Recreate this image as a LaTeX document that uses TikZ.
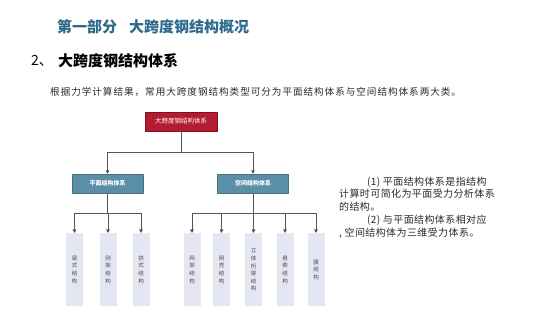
\documentclass[tikz,border=0pt]{standalone}
\usepackage{fontspec}
\newfontfamily\cjk{Noto Sans CJK SC}
\usetikzlibrary{arrows.meta}
\newcommand\tightls{\lineskiplimit=-10pt\relax}
\definecolor{titleblue}{HTML}{2E6A8C}
\definecolor{topred}{HTML}{B21B30}
\definecolor{midblue}{HTML}{5B8FA7}
\definecolor{leafbg}{HTML}{E4E6F2}
\definecolor{linegray}{HTML}{555555}
\definecolor{txtgray}{HTML}{2A2A2A}
\tikzset{
  topbox/.style={draw=topred!70!black, line width=0.3pt, fill=topred, text=white, minimum width=72pt, minimum height=19pt, inner sep=0pt, font=\cjk\fontsize{6.5}{7}\selectfont},
  midbox/.style={draw=midblue!80!black, line width=0.3pt, fill=midblue, text=white, minimum width=71pt, minimum height=19pt, inner sep=0pt, font=\cjk\bfseries\fontsize{6}{7}\selectfont},
  leafbox/.style={fill=leafbg, draw=none, minimum width=17pt, minimum height=73pt, inner sep=0pt, anchor=north, align=center, text=black!70, font=\cjk\fontsize{5.5}{7.6}\selectfont\tightls},
  conn/.style={draw=linegray, line width=0.7pt},
  arr/.style={conn, -{Triangle[width=3.5pt,length=3.5pt]}}
}
\begin{document}
\begin{tikzpicture}[x=1pt,y=-1pt]
\useasboundingbox (0,0) rectangle (560,315);
% titles
\node[anchor=west, text=titleblue, font=\cjk\bfseries\fontsize{15}{16}\selectfont, inner sep=0pt] (title) at (57,27) {第一部分\hspace{12pt}大跨度钢结构概况};
\node[anchor=west, text=black, font=\cjk\fontsize{14}{16}\selectfont, inner sep=0pt] (num) at (31,61) {2、};
\node[anchor=west, text=black, font=\cjk\bfseries\fontsize{15}{16}\selectfont, inner sep=0pt] (head) at (58,61) {大跨度钢结构体系};
\node[anchor=west, text=txtgray, font=\cjk\addfontfeature{LetterSpace=10}\fontsize{9.6}{11}\selectfont, inner sep=0pt] (intro) at (50,92) {根据力学计算结果，常用大跨度钢结构类型可分为平面结构体系与空间结构体系两大类。};
% tree
\node[topbox] (top) at (181,121.5) {大跨度钢结构体系};
\node[midbox] (pl) at (107.5,183.5) {平面结构体系};
\node[midbox] (kj) at (253,183.5) {空间结构体系};
\coordinate (j1) at (181,152);
\draw[conn] (top.south) -- (j1);
\draw[arr] (j1) -| (pl.north);
\draw[arr] (j1) -| (kj.north);
% leaves left
\node[leafbox] (l1) at (74.5,233) {梁\\式\\结\\构};
\node[leafbox] (l2) at (108,233) {刚\\架\\结\\构};
\node[leafbox] (l3) at (141,233) {拱\\式\\结\\构};
\coordinate (j2) at (107.5,213);
\draw[conn] (pl.south) -- (j2);
\foreach \n in {l1,l2,l3} \draw[arr] (j2) -| (\n.north);
% leaves right
\node[leafbox] (r1) at (192,233) {网\\架\\结\\构};
\node[leafbox] (r2) at (221.5,233) {网\\壳\\结\\构};
\node[leafbox] (r3) at (253.5,233) {立\\体\\桁\\架\\结\\构};
\node[leafbox] (r4) at (285,233) {悬\\索\\结\\构};
\node[leafbox] (r5) at (316,233) {膜\\结\\构};
\coordinate (j3) at (253,213);
\draw[conn] (kj.south) -- (j3);
\foreach \n in {r1,r2,r3,r4,r5} \draw[arr] (j3) -| (\n.north);
% side text
\node[anchor=north west, inner sep=0pt, align=left, text=txtgray, font=\cjk\addfontfeature{LetterSpace=4}\fontsize{10}{12.8}\selectfont\tightls] (side) at (339,176.5)
{\hspace{28pt}(1) 平面结构体系是指结构\\
计算时可简化为平面受力分析体系\\
的结构。\\
\hspace{28pt}(2) 与平面结构体系相对应\\
, 空间结构体为三维受力体系。};
\end{tikzpicture}
\end{document}
